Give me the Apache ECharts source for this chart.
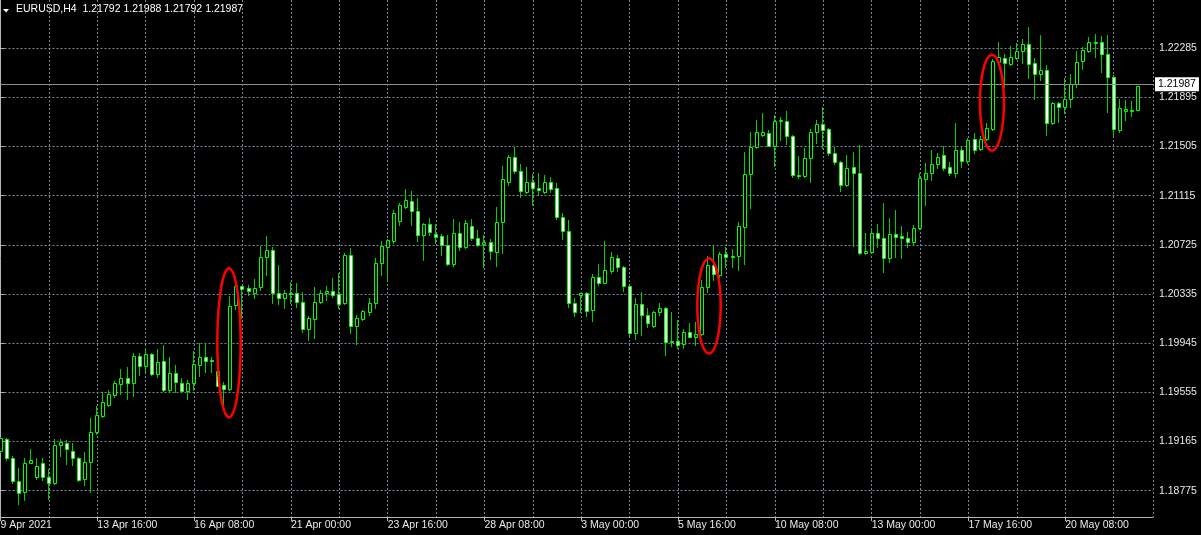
<!DOCTYPE html>
<html>
<head>
<meta charset="utf-8">
<script src="https://cdn.jsdelivr.net/npm/echarts@6/dist/echarts.min.js"></script>
<style>
html,body{margin:0;padding:0;background:#000;}
#chart{width:1201px;height:535px;}
</style>
</head>
<body>
<div id="chart"></div>
<script>
// ---- data: EURUSD H4 candles (bar index 0 = 9 Apr 2021 00:00) ----
const opens = [
1.19092,1.19185,1.19036,1.18851,1.18762,1.18996,1.18885,1.18996,1.18881,1.18833,
1.19137,1.19155,1.19091,1.19036,1.18867,1.18999,1.19238,1.19369,1.19454,1.19534,
1.19620,1.19666,1.19631,1.19843,1.19767,1.19857,1.19698,1.19804,1.19573,1.19706,
1.19626,1.19565,1.19626,1.19772,1.19833,1.19812,1.19724,1.19613,1.19579,1.20248,
1.20398,1.20380,1.20341,1.20388,1.20631,1.20685,1.20341,1.20301,1.20335,1.20345,
1.20269,1.20056,1.20137,1.20269,1.20341,1.20361,1.20333,1.20261,1.20645,1.20084,
1.20135,1.20195,1.20266,1.20584,1.20711,1.20758,1.20917,1.21023,1.21075,1.20996,
1.20804,1.20891,1.20812,1.20796,1.20724,1.20573,1.20822,1.20706,1.20877,1.20782,
1.20730,1.20746,1.20672,1.20904,1.21226,1.21420,1.21314,1.21147,1.21221,1.21178,
1.21147,1.21221,1.21174,1.20948,1.20836,1.20266,1.20325,1.20341,1.20208,1.20472,
1.20425,1.20520,1.20619,1.20553,1.20401,1.20028,1.20253,1.20168,1.20084,1.20190,
1.20222,1.19957,1.19965,1.19936,1.20032,1.19997,1.20016,1.20388,1.20565,1.20486,
1.20650,1.20640,1.20637,1.20869,1.21285,1.21504,1.21595,1.21615,1.21512,1.21708,
1.21710,1.21592,1.21279,1.21271,1.21412,1.21618,1.21684,1.21642,1.21452,1.21381,
1.21200,1.21346,1.21298,1.20658,1.20672,1.20817,1.20782,1.20619,1.20812,1.20798,
1.20782,1.20750,1.20857,1.21245,1.21293,1.21365,1.21438,1.21341,1.21298,1.21478,
1.21393,1.21563,1.21484,1.21563,1.21645,1.22179,1.22210,1.22160,1.22206,1.22264,
1.22317,1.22166,1.22079,1.22113,1.21690,1.21848,1.21817,1.21880,1.21999,1.22187,
1.22264,1.22337,1.22331,1.22240,1.22060,1.21637,1.21790,1.21790,1.21792
];
const closes = [
1.19190,1.19034,1.18851,1.18754,1.18992,1.19018,1.18970,1.18881,1.18833,1.19137,
1.19163,1.19103,1.19036,1.18859,1.18999,1.19238,1.19375,1.19480,1.19539,1.19626,
1.19666,1.19631,1.19843,1.19767,1.19857,1.19698,1.19798,1.19573,1.19706,1.19639,
1.19565,1.19631,1.19777,1.19833,1.19804,1.19804,1.19607,1.19579,1.20242,1.20398,
1.20377,1.20359,1.20385,1.20631,1.20685,1.20341,1.20301,1.20341,1.20345,1.20269,
1.20060,1.20143,1.20269,1.20345,1.20359,1.20327,1.20258,1.20645,1.20084,1.20143,
1.20200,1.20266,1.20584,1.20716,1.20764,1.20975,1.21042,1.21081,1.20996,1.20804,
1.20891,1.20825,1.20785,1.20724,1.20573,1.20817,1.20706,1.20896,1.20777,1.20724,
1.20746,1.20677,1.20904,1.21245,1.21420,1.21314,1.21155,1.21226,1.21174,1.21160,
1.21221,1.21168,1.20948,1.20836,1.20261,1.20195,1.20341,1.20203,1.20472,1.20425,
1.20525,1.20631,1.20553,1.20401,1.20028,1.20253,1.20168,1.20108,1.20190,1.20222,
1.19957,1.19965,1.19933,1.20032,1.19997,1.20016,1.20393,1.20565,1.20491,1.20653,
1.20627,1.20631,1.20875,1.21285,1.21504,1.21623,1.21618,1.21512,1.21710,1.21716,
1.21592,1.21279,1.21271,1.21412,1.21623,1.21682,1.21637,1.21452,1.21381,1.21200,
1.21338,1.21298,1.20658,1.20677,1.20817,1.20782,1.20619,1.20809,1.20790,1.20782,
1.20750,1.20857,1.21253,1.21293,1.21365,1.21425,1.21338,1.21298,1.21478,1.21393,
1.21557,1.21478,1.21563,1.21650,1.22187,1.22214,1.22166,1.22218,1.22266,1.22317,
1.22160,1.22079,1.22113,1.21694,1.21848,1.21817,1.21880,1.22001,1.22179,1.22272,
1.22337,1.22325,1.22240,1.22055,1.21642,1.21809,1.21803,1.21799,1.21987
];
const lows = [
1.19082,1.19018,1.18833,1.18666,1.18700,1.18992,1.18864,1.18859,1.18708,1.18827,
1.19050,1.18987,1.18979,1.18851,1.18819,1.18762,1.19222,1.19361,1.19443,1.19520,
1.19542,1.19502,1.19526,1.19692,1.19727,1.19695,1.19679,1.19565,1.19560,1.19560,
1.19560,1.19499,1.19573,1.19684,1.19718,1.19714,1.19605,1.19443,1.19573,1.20214,
1.20142,1.20327,1.20306,1.20367,1.20486,1.20261,1.20256,1.20222,1.20261,1.20234,
1.20036,1.19970,1.19984,1.20264,1.20287,1.20314,1.20224,1.20256,1.20024,1.19936,
1.20129,1.20168,1.20222,1.20483,1.20446,1.20742,1.20883,1.21015,1.20883,1.20758,
1.20605,1.20804,1.20738,1.20645,1.20565,1.20558,1.20685,1.20698,1.20764,1.20716,
1.20553,1.20611,1.20560,1.20658,1.21200,1.21293,1.21107,1.21134,1.21042,1.21121,
1.21136,1.21147,1.20932,1.20769,1.20234,1.20160,1.20195,1.20160,1.20121,1.20406,
1.20420,1.20504,1.20520,1.20361,1.20010,1.19976,1.20010,1.20076,1.20076,1.20168,
1.19851,1.19920,1.19905,1.19905,1.19992,1.19931,1.20010,1.20353,1.20446,1.20472,
1.20553,1.20553,1.20525,1.20573,1.21015,1.21492,1.21589,1.21510,1.21351,1.21557,
1.21523,1.21267,1.21253,1.21261,1.21226,1.21536,1.21492,1.21438,1.21367,1.21152,
1.21192,1.20716,1.20653,1.20653,1.20658,1.20711,1.20512,1.20592,1.20631,1.20619,
1.20711,1.20724,1.20849,1.21042,1.21240,1.21333,1.21319,1.21279,1.21261,1.21346,
1.21377,1.21452,1.21478,1.21557,1.21633,1.22166,1.21980,1.22152,1.22198,1.22166,
1.22047,1.21882,1.22033,1.21597,1.21684,1.21702,1.21769,1.21817,1.21980,1.22118,
1.22258,1.22218,1.22097,1.21782,1.21597,1.21623,1.21716,1.21747,1.21792
];
const highs = [
1.19201,1.19195,1.19050,1.18952,1.19036,1.19103,1.19036,1.19036,1.18944,1.19183,
1.19183,1.19177,1.19151,1.19044,1.19084,1.19350,1.19447,1.19555,1.19573,1.19645,
1.19738,1.19753,1.19871,1.19871,1.19897,1.19871,1.19897,1.19931,1.19833,1.19772,
1.19666,1.19653,1.19885,1.19944,1.19944,1.19833,1.19835,1.19639,1.20319,1.20478,
1.20402,1.20406,1.20452,1.20716,1.20796,1.20711,1.20565,1.20367,1.20433,1.20420,
1.20348,1.20160,1.20393,1.20367,1.20398,1.20464,1.20499,1.20663,1.20700,1.20168,
1.20208,1.20301,1.20619,1.20758,1.20772,1.21002,1.21055,1.21166,1.21155,1.21094,
1.20901,1.20936,1.20891,1.20812,1.20804,1.20928,1.20909,1.20920,1.20928,1.20847,
1.20804,1.20772,1.21023,1.21351,1.21438,1.21499,1.21367,1.21341,1.21287,1.21293,
1.21279,1.21261,1.21213,1.20980,1.20920,1.20301,1.20343,1.20353,1.20494,1.20573,
1.20758,1.20672,1.20645,1.20558,1.20406,1.20301,1.20353,1.20224,1.20203,1.20261,
1.20232,1.20195,1.20129,1.20056,1.20103,1.20116,1.20446,1.20637,1.20716,1.20672,
1.20706,1.20690,1.20909,1.21464,1.21620,1.21716,1.21769,1.21637,1.21755,1.21742,
1.21787,1.21597,1.21430,1.21492,1.21642,1.21716,1.21821,1.21650,1.21499,1.21391,
1.21438,1.21464,1.21518,1.20822,1.20843,1.20891,1.21055,1.20936,1.21002,1.20875,
1.20830,1.20883,1.21293,1.21372,1.21478,1.21457,1.21510,1.21385,1.21690,1.21510,
1.21571,1.21616,1.21589,1.21695,1.22196,1.22337,1.22240,1.22303,1.22329,1.22356,
1.22456,1.22210,1.22391,1.22152,1.21855,1.21855,1.22047,1.22081,1.22266,1.22293,
1.22377,1.22398,1.22383,1.22387,1.22069,1.21880,1.21874,1.21869,1.21988
];
// time labels, one every 16 bars
const timeLabels = ["9 Apr 2021","13 Apr 16:00","16 Apr 08:00","21 Apr 00:00","23 Apr 16:00","28 Apr 08:00",
  "3 May 00:00","5 May 16:00","10 May 08:00","13 May 00:00","17 May 16:00","20 May 08:00"];
const priceTicks = [1.18775,1.19165,1.19555,1.19945,1.20335,1.20725,1.21115,1.21505,1.21895,1.22285];
// highlighted breakouts: [centre bar, centre price, half width (bars), half height (price)]
const highlightBars   = [37.77, 117.11, 163.88];
const highlightPrices = [1.19948, 1.20241, 1.21853];
const highlightHalfW  = [1.93, 1.93, 1.98];
const highlightHalfH  = [0.00591, 0.00377, 0.00380];
const symbolName = "EURUSD,H4";

// ---- build ----
const FONT = "'Liberation Sans', Arial, sans-serif";
const FS = 10.5;
const GRID_COL = '#778899';
const AXIS_COL = '#b4b4b4';
const TXT_COL = '#e8e8e8';
const last = closes.length - 1;
const bid = closes[last];

const candleData = opens.map((o, i) => [i, o, closes[i], lows[i], highs[i]]);
const ellipseData = highlightBars.map((b, i) => [b, highlightPrices[i], highlightHalfW[i], highlightHalfH[i]]);

function renderCandle(params, api) {
  const i = api.value(0), o = api.value(1), c = api.value(2), l = api.value(3), h = api.value(4);
  const pO = api.coord([i, o]), pC = api.coord([i, c]);
  const pL = api.coord([i, l]), pH = api.coord([i, h]);
  const cx = Math.round(pO[0]);
  const wx = cx - 0.5;
  const yTop = Math.round(Math.min(pO[1], pC[1])) + 0.5;
  const yBot = Math.round(Math.max(pO[1], pC[1])) + 0.5;
  const bull = c > o;
  const children = [{
    type: 'line',
    shape: { x1: wx, y1: Math.round(pH[1]), x2: wx, y2: Math.round(pL[1]) + 1 },
    style: { stroke: '#00d000', lineWidth: 1 }
  }];
  if (yBot - yTop < 1) {
    children.push({
      type: 'line',
      shape: { x1: cx - 2, y1: yTop, x2: cx + 2, y2: yTop },
      style: { stroke: '#00ff00', lineWidth: 1 }
    });
  } else {
    children.push({
      type: 'rect',
      shape: { x: cx - 1.5, y: yTop, width: 3, height: yBot - yTop },
      style: { fill: bull ? '#000' : '#fff', stroke: '#00ff00', lineWidth: 1 }
    });
  }
  return { type: 'group', children: children };
}

function renderEllipse(params, api) {
  const bx = api.value(0), py = api.value(1), hw = api.value(2), hh = api.value(3);
  const c = api.coord([bx, py]);
  const ex = api.coord([bx + hw, py]);
  const ey = api.coord([bx, py + hh]);
  const rx = Math.abs(ex[0] - c[0]), ry = Math.abs(ey[1] - c[1]);
  const pts = [];
  for (let k = 0; k < 120; k++) {
    const t = (k / 120) * Math.PI * 2;
    pts.push([c[0] + rx * Math.cos(t), c[1] + ry * Math.sin(t)]);
  }
  return { type: 'polygon', shape: { points: pts }, style: { fill: 'none', stroke: '#ff0000', lineWidth: 2.5 } };
}

const X_MAX = 190.5;
const chart = echarts.init(document.getElementById('chart'), null, { renderer: 'canvas' });
chart.setOption({
  backgroundColor: '#000',
  animation: false,
  grid: { left: 0.5, right: 48, top: 0, bottom: 18, containLabel: false, outerBoundsMode: 'none' },
  xAxis: [{
    type: 'value', min: 0, max: X_MAX, interval: 8,
    axisLine: { show: true, onZero: false, lineStyle: { color: AXIS_COL, width: 1 } },
    axisTick: { show: false }, axisLabel: { show: false },
    splitLine: { show: true, lineStyle: { color: GRID_COL, width: 1, type: [2, 2] } }
  }, {
    type: 'value', min: 0, max: X_MAX, interval: 16, position: 'bottom',
    axisLine: { show: false, onZero: false },
    axisTick: { show: true, length: 4, lineStyle: { color: AXIS_COL } },
    axisLabel: {
      show: true, align: 'left', margin: 3, color: TXT_COL, fontSize: FS, fontFamily: FONT,
      showMinLabel: true, showMaxLabel: false,
      formatter: function (v) {
        const k = Math.round(v / 16);
        return (Math.abs(v - k * 16) < 1e-6 && timeLabels[k]) ? timeLabels[k] : '';
      }
    },
    splitLine: { show: false }
  }],
  yAxis: {
    type: 'value', position: 'right', min: 1.18566, max: 1.22668, scale: true,
    axisLine: { show: true, lineStyle: { color: AXIS_COL, width: 1 } },
    axisTick: { show: true, inside: false, length: 4, customValues: priceTicks, lineStyle: { color: AXIS_COL } },
    axisLabel: {
      show: true, customValues: priceTicks, margin: 6, color: TXT_COL, fontSize: FS, fontFamily: FONT,
      formatter: function (v) { return v.toFixed(5); }
    },
    splitLine: { show: true, lineStyle: { color: GRID_COL, width: 1, type: [2, 2] } }
  },
  series: [{
    type: 'custom', name: 'candles', xAxisIndex: 0, yAxisIndex: 0,
    renderItem: renderCandle,
    dimensions: ['bar', 'open', 'close', 'low', 'high'],
    encode: { x: 0, y: [1, 2, 3, 4] },
    data: candleData,
    clip: true, silent: true, z: 2,
    markLine: {
      silent: true, symbol: ['none', 'none'], animation: false,
      lineStyle: { color: '#8a8f96', width: 1, type: 'solid' },
      label: {
        show: true, position: 'end', distance: 2, formatter: bid.toFixed(5),
        color: '#000', backgroundColor: '#fff', padding: [2, 3, 1, 3], fontSize: FS, fontFamily: FONT
      },
      emphasis: { disabled: true },
      data: [{ yAxis: bid }]
    }
  }, {
    type: 'custom', name: 'highlights', xAxisIndex: 0, yAxisIndex: 0,
    renderItem: renderEllipse,
    encode: { x: 0, y: 1 },
    data: ellipseData,
    clip: false, silent: true, z: 5
  }],
  graphic: [{
    type: 'polygon', silent: true,
    shape: { points: [[3, 9], [9, 9], [6, 12.5]] },
    style: { fill: '#fff' }
  }, {
    type: 'text', silent: true, left: 16, top: 4,
    style: {
      text: symbolName + '  ' + [opens[last], highs[last], lows[last], closes[last]].map(v => v.toFixed(5)).join(' '),
      fill: '#fff', font: FS + 'px ' + FONT
    }
  }]
});
</script>
</body>
</html>
